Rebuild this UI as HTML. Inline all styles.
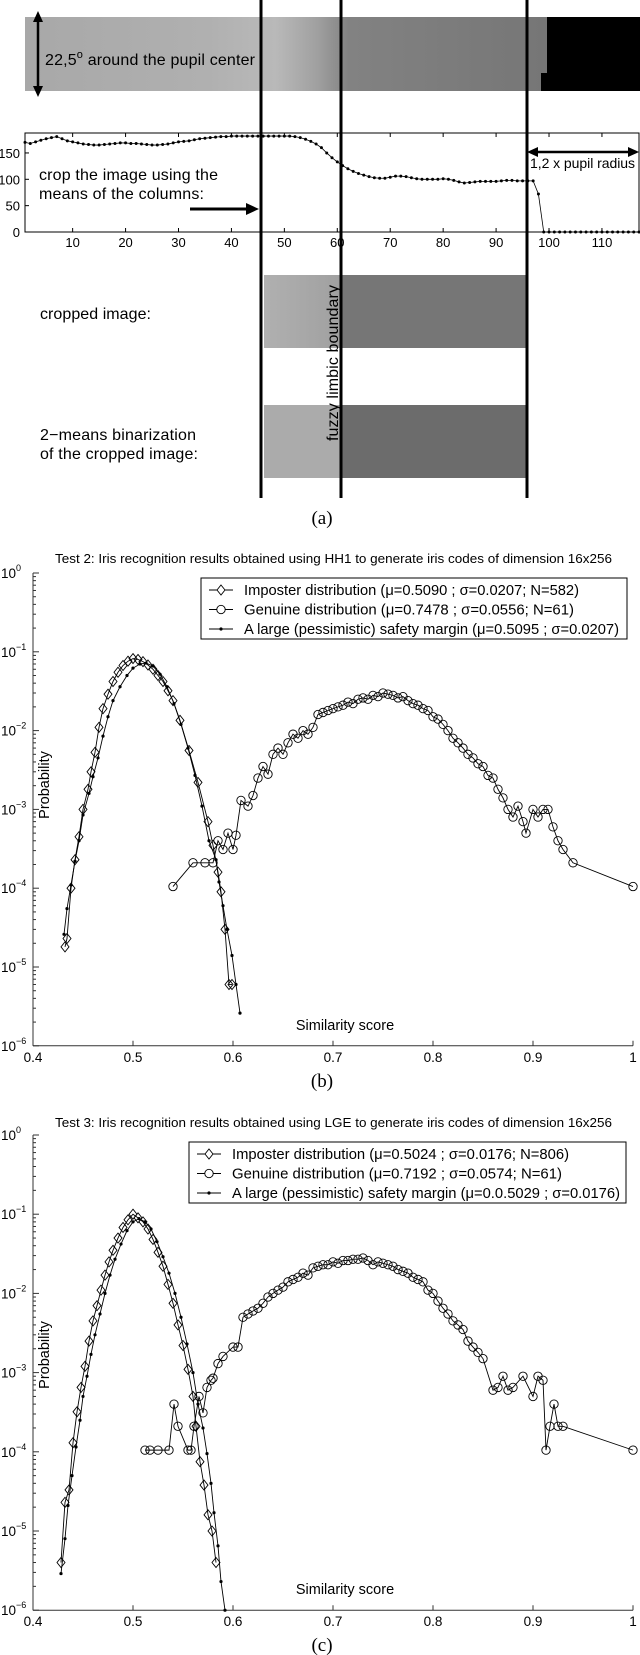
<!DOCTYPE html>
<html><head><meta charset="utf-8">
<style>
html,body{margin:0;padding:0;background:#fff;}
svg{display:block;font-family:"Liberation Sans",sans-serif;}
</style></head>
<body>
<svg id="fig" width="640" height="1655" viewBox="0 0 640 1655" xmlns="http://www.w3.org/2000/svg">
<defs>
<linearGradient id="stripGrad" x1="0" x2="1" y1="0" y2="0">
<stop offset="0" stop-color="#a8a8a8"/><stop offset="0.35" stop-color="#b0b0b0"/>
<stop offset="0.48" stop-color="#b9b9b9"/><stop offset="0.56" stop-color="#a0a0a0"/>
<stop offset="0.62" stop-color="#828282"/><stop offset="1" stop-color="#767676"/>
</linearGradient>
<linearGradient id="cropGrad" x1="0" x2="1"><stop offset="0" stop-color="#b0b0b0"/><stop offset="1" stop-color="#a0a0a0"/></linearGradient>
</defs>
<g>
<rect x="25" y="17" width="522" height="74" fill="url(#stripGrad)"/>
<rect x="547" y="17" width="93" height="74" fill="#000"/>
<rect x="541" y="73" width="8" height="18" fill="#000"/>
<g>
<line x1="38" y1="16" x2="38" y2="92" stroke="#000" stroke-width="2.5"/>
<polygon points="38,11 33,22 43,22" fill="#000"/><polygon points="38,97 33,86 43,86" fill="#000"/>
</g>
<text x="45" y="65" font-size="16" textLength="210">22,5<tspan dy="-7" font-size="11">o</tspan><tspan dy="7"> around the pupil center</tspan></text>
<rect x="25" y="133" width="614" height="99" fill="none" stroke="#000" stroke-width="1"/>
<g id="aTicks"></g>
<polyline id="meansLine" fill="none" stroke="#000" stroke-width="0.8"/>
<g id="meansDots"></g>
<text x="39" y="180" font-size="16" textLength="179">crop the image using the</text>
<text x="39" y="199" font-size="16" textLength="165">means of the columns:</text>
<g><line x1="190" y1="209" x2="248" y2="209" stroke="#000" stroke-width="3"/><polygon points="259,209 246,203 246,215" fill="#000"/></g>
<g><line x1="530" y1="152" x2="636" y2="152" stroke="#000" stroke-width="2.5"/><polygon points="527,152 538,147 538,157" fill="#000"/><polygon points="639,152 628,147 628,157" fill="#000"/></g>
<text x="530" y="168" font-size="14" textLength="105">1,2 x pupil radius</text>
<text x="40" y="319" font-size="16" textLength="111">cropped image:</text>
<rect x="264" y="275" width="77" height="73" fill="url(#cropGrad)"/>
<rect x="341" y="275" width="186" height="73" fill="#767676"/>
<text x="40" y="440" font-size="16" textLength="156">2−means binarization</text>
<text x="40" y="459" font-size="16" textLength="158">of the cropped image:</text>
<rect x="264" y="405" width="77" height="73" fill="#ababab"/>
<rect x="341" y="405" width="186" height="73" fill="#6c6c6c"/>
<text transform="translate(338,441) rotate(-90)" font-size="16" textLength="156">fuzzy limbic boundary</text>
<line x1="261" y1="0" x2="261" y2="498" stroke="#000" stroke-width="3"/>
<line x1="341" y1="0" x2="341" y2="498" stroke="#000" stroke-width="3"/>
<line x1="527" y1="0" x2="527" y2="498" stroke="#000" stroke-width="3"/>
<text x="322" y="524" font-size="19" text-anchor="middle" font-family="Liberation Serif,serif">(a)</text>
</g>
<g id="plotB"></g>
<g id="plotC"></g>
</svg>
<script>
// ---- Panel (a) data: column means ----
const aMeans = [170,168,171,174,177,179,181,177,173,171,169,167,166,165,165,166,167,168,169,169,168,168,167,166,165,165,166,167,169,171,172,173,175,177,178,179,180,181,181,182,182,182,182,182,182,182,182,182,182,182,182,181,179,176,172,167,160,150,141,133,126,120,115,111,108,105,103,102,102,104,106,106,105,103,101,100,100,100,100,101,100,98,95,93,94,95,96,96,96,96,97,98,98,97,97,97,97,72,0,0,0,0,0,0,0,0,0,0,0,0,0,0,0,0,0,0,0];
const aXTicks = [10,20,30,40,50,60,70,80,90,100,110];
const aYTicks = [0,50,100,150];

// ---- Panel (b) data ----
const bImpX = [.432,.434,.438,.442,.446,.450,.455,.458,.462,.466,.470,.475,.480,.485,.490,.495,.500,.505,.510,.515,.520,.525,.530,.535,.540,.547,.556,.565,.575,.580,.585,.588,.592,.596,.599];
const bImpP = [1.8e-5,2.3e-5,1e-4,2.3e-4,4.5e-4,1e-3,1.8e-3,3e-3,5.3e-3,1.1e-2,1.9e-2,2.9e-2,4.2e-2,5.5e-2,6.7e-2,7.6e-2,8.2e-2,8e-2,7.5e-2,6.8e-2,6e-2,5e-2,4.2e-2,3.2e-2,2.4e-2,1.35e-2,5.6e-3,2.2e-3,7e-4,3.5e-4,1.6e-4,9e-5,3e-5,6e-6,6e-6];
const bMarX = [.431,.434,.438,.442,.446,.450,.456,.460,.465,.470,.475,.480,.487,.494,.500,.507,.513,.520,.527,.534,.541,.548,.555,.562,.569,.576,.583,.586,.590,.594,.599,.603,.607];
const bMarP = [2.6e-5,5.5e-5,1.1e-4,2.2e-4,4e-4,8.5e-4,1.6e-3,2.6e-3,4.5e-3,8.5e-3,1.5e-2,2.4e-2,3.6e-2,5e-2,6.2e-2,7e-2,7.2e-2,6.6e-2,5.2e-2,3.6e-2,2.2e-2,1.2e-2,6e-3,2.7e-3,1.1e-3,4e-4,2.3e-4,1.2e-4,6e-5,3e-5,1.4e-5,6e-6,2.6e-6];
const bGenX = [.54,.56,.572,.58,.585,.59,.595,.6,.603,.608,.615,.62,.625,.63,.635,.64,.645,.65,.655,.66,.665,.67,.675,.68,.685,.69,.695,.7,.705,.71,.715,.72,.725,.73,.735,.74,.745,.75,.755,.76,.765,.77,.775,.78,.785,.79,.795,.8,.805,.81,.815,.82,.825,.83,.835,.84,.845,.85,.855,.86,.865,.87,.875,.88,.885,.89,.893,.9,.905,.91,.915,.92,.925,.93,.94,1.0];
const bGenP = [1.05e-4,2.1e-4,2.1e-4,2.1e-4,4e-4,3.1e-4,5e-4,3.1e-4,4.7e-4,1.3e-3,1.1e-3,1.5e-3,2.5e-3,3.5e-3,2.8e-3,5e-3,6e-3,5e-3,7e-3,9e-3,8e-3,1e-2,9e-3,1.1e-2,1.6e-2,1.7e-2,1.8e-2,1.9e-2,2e-2,2.1e-2,2.3e-2,2.2e-2,2.5e-2,2.6e-2,2.5e-2,2.8e-2,2.7e-2,3e-2,2.9e-2,2.8e-2,2.6e-2,2.7e-2,2.4e-2,2.2e-2,2.1e-2,1.9e-2,1.8e-2,1.5e-2,1.4e-2,1.2e-2,1e-2,8e-3,7e-3,6e-3,5e-3,4.5e-3,3.8e-3,3.5e-3,2.7e-3,2.5e-3,1.8e-3,1.4e-3,1e-3,8e-4,1.1e-3,7e-4,5e-4,1e-3,8e-4,1e-3,1e-3,6e-4,4e-4,3.1e-4,2.1e-4,1.05e-4];

// ---- Panel (c) data ----
const cImpX = [.428,.432,.436,.440,.444,.448,.452,.456,.460,.464,.468,.472,.476,.480,.485,.490,.495,.500,.505,.510,.515,.520,.525,.530,.535,.540,.545,.550,.555,.560,.563,.567,.571,.575,.579,.583];
const cImpP = [4e-6,2.3e-5,3.3e-5,1.3e-4,3.2e-4,6.5e-4,1.2e-3,2.5e-3,4.5e-3,7e-3,1.1e-2,1.7e-2,2.5e-2,3.5e-2,5e-2,6.8e-2,8.5e-2,1e-1,9e-2,8e-2,6.5e-2,4.8e-2,3.3e-2,2.2e-2,1.3e-2,7.5e-3,4e-3,2.2e-3,1.1e-3,5e-4,2.1e-4,7.5e-5,3.8e-5,1.6e-5,1e-5,4e-6];
const cMarX = [.428,.432,.435,.439,.443,.447,.450,.454,.458,.462,.467,.472,.477,.482,.488,.494,.500,.506,.512,.518,.524,.530,.536,.542,.548,.554,.560,.565,.570,.574,.578,.581,.585,.588,.592];
const cMarP = [2.9e-6,8e-6,2.1e-5,5e-5,1.15e-4,2.5e-4,5e-4,9e-4,1.7e-3,3e-3,5.5e-3,1e-2,1.7e-2,2.7e-2,4.2e-2,6.2e-2,8e-2,8.8e-2,8e-2,6.5e-2,4.5e-2,2.9e-2,1.8e-2,1e-2,5e-3,2.3e-3,1e-3,4e-4,2e-4,9.5e-5,4e-5,1.7e-5,6.5e-6,2.3e-6,1e-6];
const cGenX = [.512,.517,.525,.536,.541,.545,.555,.558,.561,.566,.570,.574,.578,.580,.585,.590,.600,.605,.610,.615,.620,.625,.630,.635,.640,.645,.650,.655,.660,.665,.670,.675,.680,.685,.690,.695,.700,.705,.710,.715,.720,.725,.730,.735,.740,.745,.750,.755,.760,.765,.770,.775,.780,.785,.790,.795,.800,.805,.810,.815,.820,.825,.830,.835,.840,.845,.850,.860,.865,.870,.875,.880,.890,.900,.905,.910,.913,.917,.921,.925,.930,1.0];
const cGenP = [1.05e-4,1.05e-4,1.05e-4,1.05e-4,4e-4,2.1e-4,1.05e-4,1.05e-4,2.1e-4,5e-4,3.1e-4,6.5e-4,8e-4,8.5e-4,1.3e-3,1.6e-3,2.1e-3,2.1e-3,5e-3,5.5e-3,6e-3,6.5e-3,7.5e-3,9e-3,1e-2,1.1e-2,1.2e-2,1.4e-2,1.5e-2,1.6e-2,1.8e-2,1.7e-2,2.1e-2,2.2e-2,2.3e-2,2.3e-2,2.5e-2,2.4e-2,2.6e-2,2.6e-2,2.7e-2,2.7e-2,2.8e-2,2.6e-2,2.3e-2,2.5e-2,2.4e-2,2.3e-2,2.2e-2,2e-2,1.9e-2,1.8e-2,1.6e-2,1.5e-2,1.4e-2,1.1e-2,1e-2,8e-3,6.5e-3,5.5e-3,4.5e-3,4e-3,3.5e-3,2.5e-3,2.1e-3,1.8e-3,1.5e-3,6e-4,6.5e-4,9e-4,6e-4,6.5e-4,9e-4,5e-4,9e-4,8e-4,1.05e-4,2.1e-4,4e-4,2.1e-4,2.1e-4,1.05e-4];

const xTicks = [0.4,0.5,0.6,0.7,0.8,0.9,1];
const xTickLabels = ["0.4","0.5","0.6","0.7","0.8","0.9","1"];
const yDecades = [0,-1,-2,-3,-4,-5,-6];

const NS="http://www.w3.org/2000/svg";
function mk(tag, attrs, parent){const e=document.createElementNS(NS,tag);for(const k in attrs)e.setAttribute(k,attrs[k]);parent.appendChild(e);return e;}

// Panel (a)
const ax = v => 25 + (v-1)*(614/116);
const ay = v => 232 - v*0.527;
const aT=document.getElementById('aTicks');
aXTicks.forEach(t=>{
  const l=mk('line',{x1:ax(t),x2:ax(t),y1:232,y2:228,stroke:'#000'},aT);
  
  
  const l2=mk('line',{x1:ax(t),x2:ax(t),y1:133,y2:137,stroke:'#000'},aT);
  
  
  const tx=mk('text',{x:ax(t),y:247,'font-size':13,'text-anchor':'middle'},aT);
  tx.textContent=t;
  
  
});
aYTicks.forEach(t=>{
  const l=mk('line',{x1:25,x2:29,y1:ay(t),y2:ay(t),stroke:'#000'},aT);
  
  
  const tx=mk('text',{x:20,y:ay(t)+5,'font-size':13,'text-anchor':'end'},aT);
  tx.textContent=t;
  
  
});
document.getElementById('meansLine').setAttribute('points',aMeans.map((v,i)=>ax(i+1)+','+ay(v)).join(' '));
const mD=document.getElementById('meansDots');
aMeans.forEach((v,i)=>{
  const c=mk('circle',{cx:ax(i+1),cy:ay(v),r:1.5,fill:'#000'},mD);
  
  
});

function drawPlot(g, o){
  const X = v => 33 + (v-0.4)*1000;
  const Y = p => o.top + (-Math.log10(p))*o.dec;
  const bottom = o.top + 6*o.dec;
  const t=mk('text',{x:55,y:o.titleY,'font-size':13,textLength:557,lengthAdjust:'spacingAndGlyphs'},g);
  t.textContent=o.title;
  
  
  const ya=mk('line',{x1:33,x2:33,y1:o.top,y2:bottom,stroke:'#333'},g);
  
  
  const xa=mk('line',{x1:33,x2:633,y1:bottom,y2:bottom,stroke:'#333'},g);
  
  
  xTicks.forEach((v,i)=>{
    const l=mk('line',{x1:X(v),x2:X(v),y1:bottom,y2:bottom-5,stroke:'#333'},g);
    
    
    const tx=mk('text',{x:X(v),y:bottom+16,'font-size':13.5,'text-anchor':'middle'},g);
    tx.textContent=xTickLabels[i];
    
    
  });
  yDecades.forEach(d=>{
    const y=Y(Math.pow(10,d));
    const l=mk('line',{x1:33,x2:39,y1:y,y2:y,stroke:'#333'},g);
    
    
    const tx=mk('text',{x:1,y:y+5,'font-size':13.5},g);
    tx.textContent='10';
    
    
    const sup=mk('tspan',{dy:-7,'font-size':9},tx);
    sup.textContent=(d===0?'0':'−'+(-d));
    if(d>-6){for(let m=2;m<=9;m++){
      const ym=Y(Math.pow(10,d-1)*m);
      const ml=mk('line',{x1:33,x2:36,y1:ym,y2:ym,stroke:'#333'},g);
      
      
    }}
  });
  const yl=mk('text',{transform:`translate(49,${o.probY}) rotate(-90)`,'font-size':14.5,'text-anchor':'middle'},g);
  yl.textContent='Probability';
  
  
  const xl=mk('text',{x:345,y:bottom-16,'font-size':14.5,'text-anchor':'middle'},g);
  xl.textContent='Similarity score';
  
  
  const cap=mk('text',{x:322,y:bottom+41,'font-size':19,'text-anchor':'middle','font-family':'Liberation Serif,serif'},g);
  cap.textContent=o.caption;
  
  

  function series(xs,ps,kind,name){
    const sg=mk('g',{},g);
    
    
    const pl=mk('polyline',{points:xs.map((x,i)=>X(x)+','+Y(ps[i])).join(' '),fill:'none',stroke:'#000','stroke-width':0.9},sg);
    
    
    xs.forEach((x,i)=>{
      const cx=X(x), cy=Y(ps[i]); let m;
      if(kind==='d') m=mk('polygon',{points:`${cx},${cy-5} ${cx+4},${cy} ${cx},${cy+5} ${cx-4},${cy}`,fill:'none',stroke:'#000','stroke-width':0.9},sg);
      else if(kind==='o') m=mk('circle',{cx:cx,cy:cy,r:4.2,fill:'none',stroke:'#000','stroke-width':0.9},sg);
      else m=mk('circle',{cx:cx,cy:cy,r:1.6,fill:'#000'},sg);
      
      
    });
  }
  series(o.impX,o.impP,'d','imposter-series');
  series(o.genX,o.genP,'o','genuine-series');
  series(o.marX,o.marP,'.','margin-series');

  const lg=mk('g',{},g);
  
  
  const lb=mk('rect',{x:o.lx,y:o.ly,width:o.lw,height:61,fill:'#fff',stroke:'#000','stroke-width':1},lg);
  
  
  o.legend.forEach((txt,i)=>{
    const y=o.ly+12+i*19.5, x0=o.lx+8;
    const eg=mk('g',{},lg);
    
    
    mk('line',{x1:x0,x2:x0+24,y1:y,y2:y,stroke:'#000','stroke-width':0.9},eg);
    const cx=x0+12;
    if(i===0) mk('polygon',{points:`${cx},${y-5} ${cx+4},${y} ${cx},${y+5} ${cx-4},${y}`,fill:'#fff',stroke:'#000','stroke-width':0.9},eg);
    else if(i===1) mk('circle',{cx:cx,cy:y,r:4.2,fill:'#fff',stroke:'#000','stroke-width':0.9},eg);
    else mk('circle',{cx:cx,cy:y,r:1.6,fill:'#000'},eg);
    const tx=mk('text',{x:x0+35,y:y+5,'font-size':14.5,textLength:o.lens[i],lengthAdjust:'spacingAndGlyphs'},eg);
    tx.textContent=txt;
  });
}

drawPlot(document.getElementById('plotB'),{top:573,dec:78.8,titleY:563,title:'Test 2: Iris recognition results obtained using HH1 to generate iris codes of dimension 16x256',
  probY:785,caption:'(b)',lx:201,ly:578,lw:426,lens:[335,330,375],
  impX:bImpX,impP:bImpP,genX:bGenX,genP:bGenP,marX:bMarX,marP:bMarP,
  legend:['Imposter distribution (μ=0.5090 ; σ=0.0207; N=582)','Genuine distribution  (μ=0.7478 ; σ=0.0556; N=61)','A large (pessimistic) safety margin (μ=0.5095 ; σ=0.0207)']});
drawPlot(document.getElementById('plotC'),{top:1135,dec:79.2,titleY:1127,title:'Test 3: Iris recognition results obtained using LGE to generate iris codes of dimension 16x256',
  probY:1355,caption:'(c)',lx:189,ly:1142,lw:437,lens:[337,330,388],
  impX:cImpX,impP:cImpP,genX:cGenX,genP:cGenP,marX:cMarX,marP:cMarP,
  legend:['Imposter distribution (μ=0.5024 ; σ=0.0176; N=806)','Genuine distribution  (μ=0.7192 ; σ=0.0574; N=61)','A large (pessimistic) safety margin (μ=0.0.5029 ; σ=0.0176)']});
</script>
</body></html>
